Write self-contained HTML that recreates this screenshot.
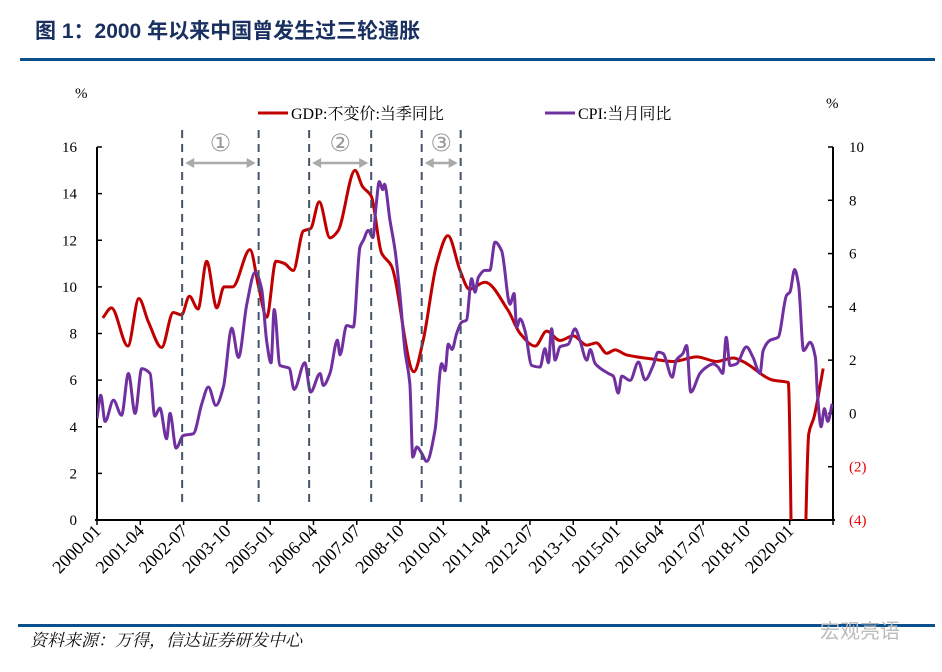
<!DOCTYPE html>
<html><head><meta charset="utf-8">
<style>
html,body{margin:0;padding:0;background:#fff;width:942px;height:672px;overflow:hidden;font-family:"Liberation Serif","Noto Serif CJK SC",serif}
svg{position:absolute;left:0;top:0;display:block}
</style></head><body>
<svg width="942" height="672" xmlns="http://www.w3.org/2000/svg">
<text x="35" y="38" font-family="Liberation Sans, Noto Sans CJK SC, sans-serif" font-weight="bold" font-size="21" fill="#1a3060">图 1：2000 年以来中国曾发生过三轮通胀</text>
<rect x="20" y="58" width="915" height="3" fill="#0b4f8e"/>
<rect x="18" y="624" width="917" height="3" fill="#0b4f8e"/>
<text x="30" y="646" font-style="italic" font-size="17" fill="#111">资料来源：万得，信达证券研发中心</text>
<text x="820" y="638" font-size="20" fill="#bbb" font-family="Liberation Sans, Noto Sans CJK SC, sans-serif">宏观亮语</text>
<text x="75" y="98" font-size="15">%</text>
<text x="826" y="108" font-size="15">%</text>
<g>
<line x1="258" y1="113" x2="288" y2="113" stroke="#c00000" stroke-width="3"/>
<text x="291" y="119" font-size="16">GDP:不变价:当季同比</text>
<line x1="545" y1="113" x2="575" y2="113" stroke="#7030a0" stroke-width="3"/>
<text x="578" y="119" font-size="16">CPI:当月同比</text>
</g>
<defs><clipPath id="pc"><rect x="97" y="147" width="736" height="373"/></clipPath></defs>
<g id="axes"></g>
<g id="marks" clip-path="url(#pc)"></g>
<g id="annot"></g>
</svg>
<script>
const NS="http://www.w3.org/2000/svg";
const xTickLabels=["2000-01","2001-04","2002-07","2003-10","2005-01","2006-04","2007-07","2008-10","2010-01","2011-04","2012-07","2013-10","2015-01","2016-04","2017-07","2018-10","2020-01"];
const leftTicks=[0,2,4,6,8,10,12,14,16];
const rightTicks=[-4,-2,0,2,4,6,8,10];
const gdpMonths=[2,5,10.7,14.5,17.8,22.4,26.4,29.3,32,35,38,41.5,44,47,53,56,58.8,62,65,68,71.5,74,77,80.7,83.5,89.4,92,95,98.6,102,109.8,113,117.7,121.6,125.8,129,134.4,142.4,146.6,151.8,155.8,160.4,165,169.7,173,176.6,179.5,183.5,192.7,199.6,207.8,214.7,220.4,223.8,234.2,239.5,241.5,244,246.6,248.4,251.6];
const gdpValues=[8.67,9.1,7.46,9.5,8.5,7.4,8.9,8.8,9.6,9.05,11.1,9.1,10.0,10.0,11.6,10.0,8.7,11.1,11.0,10.7,12.4,12.5,13.65,12.1,12.4,15.0,14.3,13.9,11.45,10.9,6.36,7.7,11.0,12.2,10.7,9.9,10.2,9.0,8.0,7.46,8.1,7.7,7.9,7.5,7.6,7.15,7.3,7.08,6.9,6.8,7.0,6.8,6.95,6.8,6.0,5.9,-6.8,-6.8,3.7,4.4,6.5];
const cpiMonths=[0,1.3,2.8,5.7,8.5,10.9,13.2,15.5,18.4,20,21.8,24.1,25.3,27.4,29.9,33.4,36.3,38.6,41.2,43.8,46.7,49,51.9,54.8,57,58.8,60.3,61.4,63.4,66.6,68.3,72,74,77.3,78.4,80.7,83.3,84.2,86.5,88.8,91.1,92.3,94,95.6,96.7,97.8,99,99.6,101.5,103.3,105,106.7,108.4,109.4,110.8,112.5,114.2,117.1,119.4,120.6,121.7,123,124.6,126.4,128,129.8,131,132.1,134.4,136.1,137.9,140.2,143.1,144.5,145.4,146.6,148.3,150.6,153.5,155.2,156.4,157.5,158.7,160.4,163.3,165.6,167.3,169.7,170.9,172.6,177.2,178.9,180.6,181.8,184.7,187.6,189.9,192.7,194.4,196.1,199.3,200.7,203,204.3,205.7,208.9,211.2,213.5,215.2,216.8,218,219.3,221.6,225,227.3,229.7,230.8,233.1,236,238.9,240.1,241.7,243.1,244.8,247.1,248.9,249.6,250.9,252,253.2,254.7];
const cpiValues=[-0.2,0.68,-0.3,0.5,-0.07,1.5,0,1.68,1.5,-0.1,0.2,-0.95,0,-1.3,-0.83,-0.76,0.36,0.99,0.3,1.0,3.2,2.1,4.1,5.3,4.7,2.7,1.9,3.9,1.8,1.7,0.9,1.9,0.8,1.5,1.05,1.5,2.75,2.2,3.3,3.24,6.24,6.5,6.87,6.6,7.8,8.7,8.4,8.6,7.25,6.1,4.4,2.36,1.1,-1.64,-1.26,-1.5,-1.8,-0.64,1.87,1.6,2.6,2.4,3.0,3.43,3.5,5.06,4.55,5.1,5.37,5.37,6.43,6.1,4.1,4.5,3.24,3.55,3.1,1.8,1.74,2.43,1.9,3.18,2.0,2.5,2.6,3.18,2.75,2.0,2.4,1.87,1.5,1.4,0.76,1.4,1.24,1.93,1.26,1.8,2.3,2.25,1.36,2.0,2.25,2.55,0.8,1.5,1.74,1.86,1.74,1.5,2.86,1.8,1.86,2.5,2.1,1.5,2.36,2.74,2.86,4.43,4.56,5.4,4.8,2.36,2.67,2.1,0.74,-0.5,0.18,-0.3,0.36];
const periodStarts=[29.5,56,73.5,95,112.5,126];
const periodLabels=["①","②","③"];

const X0=97,X1=833,Y0=520,Y1=147,MONTHS=255;
const xs=m=>X0+(X1-X0)*m/MONTHS;
const yl=v=>Y0-(Y0-Y1)*v/16;
const yr=v=>Y0-(Y0-Y1)*(v+4)/14;
function mk(tag,attrs,parent){const e=document.createElementNS(NS,tag);for(const k in attrs)e.setAttribute(k,attrs[k]);parent.appendChild(e);return e;}
const axes=document.getElementById('axes'),marks=document.getElementById('marks'),annot=document.getElementById('annot');
let e;
e=mk('line',{x1:X0,y1:Y1,x2:X0,y2:Y0,stroke:'#000','stroke-width':2},axes);


e=mk('line',{x1:X1,y1:Y1,x2:X1,y2:Y0,stroke:'#000','stroke-width':2},axes);


e=mk('line',{x1:X0-2,y1:Y0,x2:X1+2,y2:Y0,stroke:'#000','stroke-width':2},axes);


leftTicks.forEach(v=>{const y=yl(v);
 mk('line',{x1:X0,y1:y,x2:X0+5,y2:y,stroke:'#000','stroke-width':1.5},axes);
 e=mk('text',{x:X0-20,y:y+5,'text-anchor':'end','font-size':15},axes);e.textContent=v;
 
 });
rightTicks.forEach(v=>{const y=yr(v);
 mk('line',{x1:X1-5,y1:y,x2:X1,y2:y,stroke:'#000','stroke-width':1.5},axes);
 e=mk('text',{x:X1+16,y:y+5,'font-size':15,fill:v<0?'#e00':'#000'},axes);e.textContent=v<0?'('+(-v)+')':v;
 
 });
for(let i=0;i<=17;i++){const x=xs(i*15);
 mk('line',{x1:x,y1:Y0,x2:x,y2:Y0+5,stroke:'#000','stroke-width':1.5},axes);
 if(i<xTickLabels.length){e=mk('text',{x:x+5,y:Y0+12,'text-anchor':'end','font-size':18,transform:`rotate(-45 ${x+5} ${Y0+12})`},axes);e.textContent=xTickLabels[i];
 
 }}
function smooth(pts){
 const n=pts.length,t=[];
 for(let i=0;i<n;i++){
  const s0=i>0?(pts[i][1]-pts[i-1][1])/(pts[i][0]-pts[i-1][0]):null;
  const s1=i<n-1?(pts[i+1][1]-pts[i][1])/(pts[i+1][0]-pts[i][0]):null;
  if(s0===null)t.push(s1);else if(s1===null)t.push(s0);
  else if(s0*s1<=0)t.push(0);else t.push(2*s0*s1/(s0+s1));}
 let d=`M${pts[0][0]},${pts[0][1]}`;
 for(let i=0;i<n-1;i++){const dx=(pts[i+1][0]-pts[i][0])/3;
  d+=`C${pts[i][0]+dx},${pts[i][1]+t[i]*dx} ${pts[i+1][0]-dx},${pts[i+1][1]-t[i+1]*dx} ${pts[i+1][0]},${pts[i+1][1]}`;}
 return d;}
periodStarts.forEach((m,i)=>{const x=xs(m);
 e=mk('line',{x1:x,y1:130,x2:x,y2:505,stroke:'#44546a','stroke-width':2,'stroke-dasharray':'8,6'},annot);
 
 });
for(let k=0;k<3;k++){const a=xs(periodStarts[2*k])+3,b=xs(periodStarts[2*k+1])-3,y=163;
 const g=mk('g',{},annot);
 
 
 mk('line',{x1:a+4,y1:y,x2:b-4,y2:y,stroke:'#aaa','stroke-width':2.5},g);
 mk('path',{d:`M${a},${y}l9,-5v10z`,fill:'#aaa'},g);
 mk('path',{d:`M${b},${y}l-9,-5v10z`,fill:'#aaa'},g);
 e=mk('text',{x:(a+b)/2,y:151,'text-anchor':'middle','font-size':24,fill:'#999','font-family':'DejaVu Sans, sans-serif'},annot);e.textContent=periodLabels[k];
 
 }
e=mk('path',{d:smooth(gdpMonths.map((m,i)=>[xs(m),yl(gdpValues[i])])),fill:'none',stroke:'#c00000','stroke-width':3,'stroke-linejoin':'round'},marks);


e=mk('path',{d:smooth(cpiMonths.map((m,i)=>[xs(m),yr(cpiValues[i])])),fill:'none',stroke:'#7030a0','stroke-width':3,'stroke-linejoin':'round'},marks);


</script>
</body></html>
